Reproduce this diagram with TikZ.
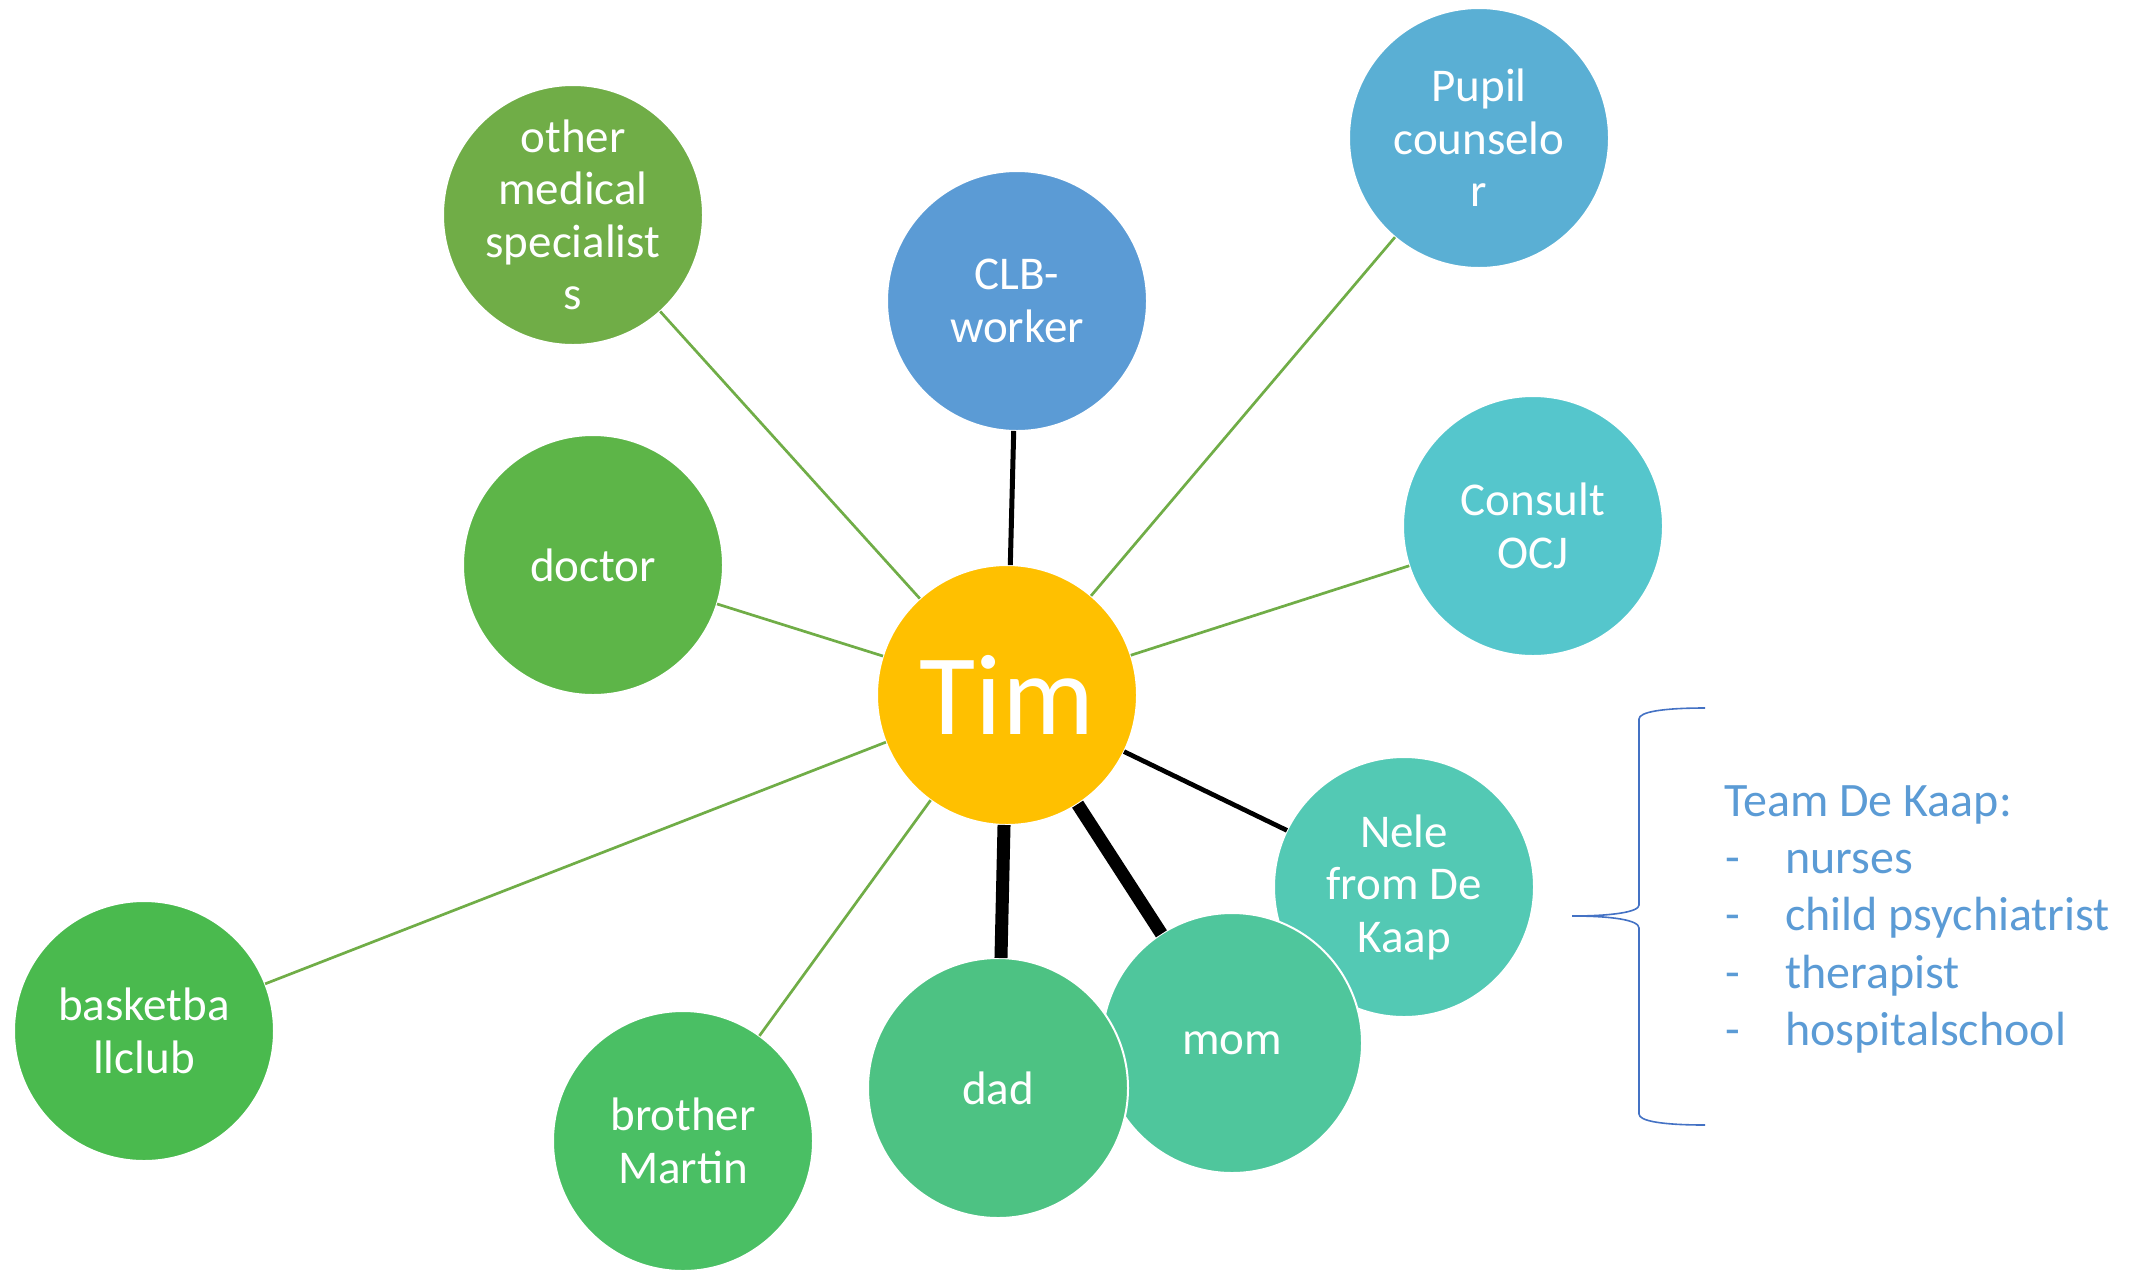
\documentclass[tikz,border=0pt]{standalone}
\usepackage{fontspec}
\setmainfont{Carlito}
\definecolor{cTim}{HTML}{FFC000}
\definecolor{cOther}{HTML}{70AD47}
\definecolor{cDoctor}{HTML}{5DB548}
\definecolor{cBasket}{HTML}{4ABA4E}
\definecolor{cBrother}{HTML}{4ABF64}
\definecolor{cDad}{HTML}{4DC283}
\definecolor{cMom}{HTML}{4FC69C}
\definecolor{cNele}{HTML}{53C9B4}
\definecolor{cOCJ}{HTML}{55C6CC}
\definecolor{cPupil}{HTML}{5AAFD4}
\definecolor{cCLB}{HTML}{5B9BD5}
\definecolor{cGreenLine}{HTML}{70AD47}
\definecolor{cBrace}{HTML}{4472C4}
\definecolor{cTeam}{HTML}{5B9BD5}
\begin{document}
\begin{tikzpicture}[x=1pt,y=-1pt,
  person/.style={circle, minimum size=260pt, inner sep=0pt, outer sep=0pt,
    draw=white, line width=2pt, text=white, align=center,
    font=\fontsize{47}{52.5}\selectfont},
  center/.style={person, font=\fontsize{115}{120}\selectfont},
  weak/.style={draw=cGreenLine, line width=2.7pt},
  strong/.style={draw=black, line width=5pt},
  verystrong/.style={draw=black, line width=13pt},
  brace/.style={draw=cBrace, line width=1.6pt},
  teamtext/.style={text=cTeam, inner sep=0pt, anchor=base west,
    font=\fontsize{48}{57}\selectfont}
]
\useasboundingbox (0,0) rectangle (2146,1272);

\node[center, fill=cTim] (tim) at (1007,695) {Tim};
\node[person, fill=cOther] (other) at (573,215) {other\\medical\\specialist\\s};
\node[person, fill=cCLB] (clb) at (1017,301) {CLB-\\worker};
\node[person, fill=cPupil] (pupil) at (1479,138) {Pupil\\counselo\\r};
\node[person, fill=cDoctor] (doctor) at (593,565) {doctor};
\node[person, fill=cOCJ] (ocj) at (1533,526) {Consult\\OCJ};
\node[person, fill=cBasket] (basket) at (144,1031) {basketba\\llclub};
\node[person, fill=cBrother] (brother) at (683,1141) {brother\\Martin};
\node[person, fill=cNele] (nele) at (1404,887) {Nele\\from De\\Kaap};
\node[person, fill=cMom] (mom) at (1232,1043) {mom};
\node[person, fill=cDad] (dad) at (998,1088) {dad};

\draw[weak] (tim) -- (other);
\draw[weak] (tim) -- (pupil);
\draw[weak] (tim) -- (doctor);
\draw[weak] (tim) -- (ocj);
\draw[weak] (tim) -- (basket);
\draw[weak] (tim) -- (brother);
\draw[strong] (tim) -- (clb);
\draw[strong, line width=4.7pt] (tim) -- (nele);
\draw[verystrong] (tim) -- (mom);
\draw[verystrong] (tim) -- (dad);

\draw[brace] (1705,708) .. controls (1662,708) and (1639,712) .. (1639,719)
  -- (1639,905) .. controls (1639,912) and (1612,916) .. (1572,916)
  .. controls (1612,916) and (1639,920) .. (1639,928)
  -- (1639,1114) .. controls (1639,1121) and (1662,1125) .. (1705,1125);

\node[teamtext] (team) at (1724,816) {Team De Kaap:};
\node[teamtext] (d1) at (1725,873) {-};
\node[teamtext] (t1) at (1785,873) {nurses};
\node[teamtext] (d2) at (1725,930) {-};
\node[teamtext] (t2) at (1785,930) {child psychiatrist};
\node[teamtext] (d3) at (1725,988) {-};
\node[teamtext] (t3) at (1785,988) {therapist};
\node[teamtext] (d4) at (1725,1045) {-};
\node[teamtext] (t4) at (1785,1045) {hospitalschool};
\end{tikzpicture}
\end{document}
